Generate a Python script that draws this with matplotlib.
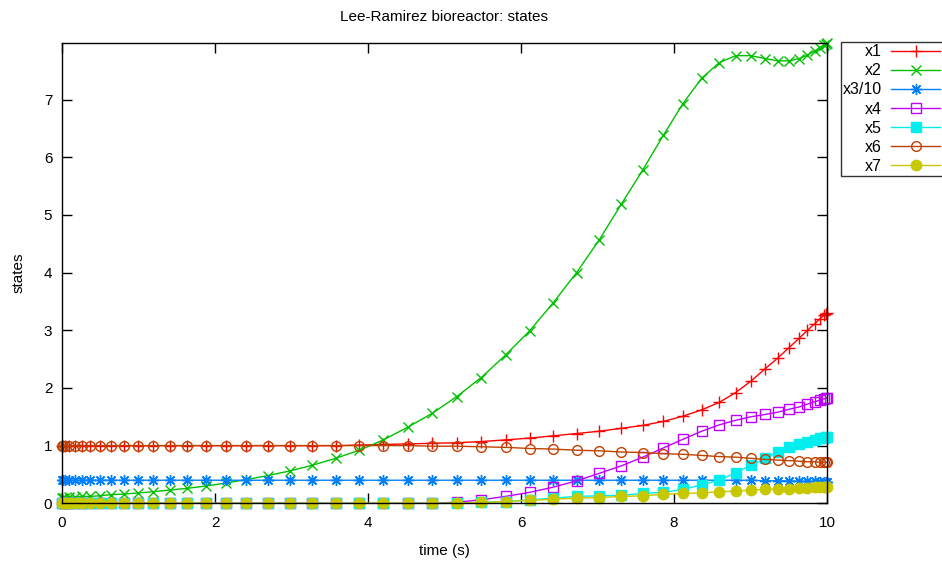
import matplotlib
matplotlib.use("Agg")
import matplotlib.pyplot as plt

plt.rcParams['font.family'] = ['Liberation Sans', 'DejaVu Sans']

# time grid
t = [0.0, 0.010, 0.041, 0.092, 0.164, 0.255, 0.365, 0.495, 0.643, 0.810,
     0.993, 1.193, 1.408, 1.639, 1.883, 2.139, 2.408, 2.687, 2.976, 3.273,
     3.577, 3.887, 4.202, 4.520, 4.840, 5.160, 5.480, 5.798, 6.113, 6.423,
     6.727, 7.024, 7.313, 7.592, 7.861, 8.117, 8.362, 8.592, 8.807, 9.007,
     9.190, 9.357, 9.505, 9.635, 9.745, 9.837, 9.908, 9.959, 9.990, 10.0]

x1 = [1.0]*21 + [1.01, 1.02, 1.03, 1.04, 1.05, 1.07, 1.10, 1.13, 1.17,
                 1.21, 1.25, 1.30, 1.35, 1.42, 1.51, 1.62, 1.75, 1.92, 2.12,
                 2.33, 2.52, 2.70, 2.86, 3.00, 3.11, 3.20, 3.26, 3.29, 3.30]
x2 = [0.10, 0.10, 0.10, 0.11, 0.11, 0.12, 0.12, 0.13, 0.15, 0.16,
      0.18, 0.20, 0.23, 0.26, 0.30, 0.35, 0.41, 0.48, 0.56, 0.66,
      0.78, 0.92, 1.10, 1.32, 1.56, 1.85, 2.18, 2.57, 2.99, 3.48,
      4.00, 4.57, 5.19, 5.78, 6.38, 6.93, 7.37, 7.64, 7.76, 7.76,
      7.71, 7.67, 7.67, 7.71, 7.77, 7.84, 7.90, 7.95, 7.97, 7.98]
x3_10 = [0.40]*39 + [0.40, 0.39, 0.39, 0.39, 0.38, 0.38, 0.38, 0.37, 0.37, 0.37, 0.37]
x4 = [0.0]*24 + [0.0, 0.02, 0.06, 0.12, 0.19, 0.28, 0.39, 0.52, 0.65, 0.80,
                 0.96, 1.11, 1.25, 1.36, 1.44, 1.50, 1.54, 1.58, 1.63, 1.67,
                 1.72, 1.76, 1.79, 1.81, 1.82, 1.83]
x5 = [0.0]*25 + [0.005, 0.015, 0.03, 0.06, 0.09, 0.12, 0.13, 0.14, 0.17, 0.19,
                 0.24, 0.32, 0.40, 0.53, 0.66, 0.78, 0.89, 0.98, 1.03, 1.07,
                 1.10, 1.13, 1.14, 1.15, 1.15]
x6 = [1.0]*24 + [0.99, 0.99, 0.98, 0.97, 0.95, 0.94, 0.92, 0.91, 0.89, 0.88,
                 0.86, 0.85, 0.83, 0.81, 0.80, 0.78, 0.76, 0.75, 0.74, 0.73,
                 0.72, 0.72, 0.71, 0.71, 0.71, 0.71]
x7 = [0.0]*25 + [0.005, 0.015, 0.03, 0.05, 0.07, 0.09, 0.10, 0.12, 0.13, 0.155,
                 0.17, 0.18, 0.20, 0.21, 0.23, 0.24, 0.25, 0.25, 0.27, 0.27,
                 0.28, 0.28, 0.28, 0.29, 0.29]

labels = ['x1', 'x2', 'x3/10', 'x4', 'x5', 'x6', 'x7']
series = [x1, x2, x3_10, x4, x5, x6, x7]
colors = ['#ff0000', '#00c000', '#0080ff', '#c000ff', '#00eeee', '#c04000', '#c8c800']
markers = ['+', 'x', (8, 2, 0), 's', 's', 'o', 'o']
filled = [True, True, True, False, True, False, True]
msizes = [8, 7, 8, 6.5, 6.5, 7, 7.5]

W, H = 942, 561
fig = plt.figure(figsize=(W/100, H/100), dpi=100)
ax = fig.add_axes([62/W, 1-503.3/H, (827-62)/W, (503.3-43)/H])

handles = []
for y, lab, c, m, f, ms in zip(series, labels, colors, markers, filled, msizes):
    kw = dict(color=c, lw=1.0, marker=m, markersize=ms, markeredgewidth=1.0)
    if not f:
        kw['markerfacecolor'] = 'none'
    ln, = ax.plot(t, y, label=lab, clip_on=False, **kw)
    handles.append(ln)

ax.set_xlim(0, 10)
ax.set_ylim(0, 7.98)
ax.set_xticks([0, 2, 4, 6, 8, 10])
ax.set_yticks(range(0, 8))
ax.tick_params(direction='in', length=7, width=1, top=True, right=True,
               labelsize=11, colors='black')
ax.tick_params(axis='x', pad=9.5)
ax.tick_params(axis='y', pad=7)
for s in ax.spines.values():
    s.set_linewidth(1.0)
ax.set_xlabel('time (s)', fontsize=11, labelpad=10)
ax.set_ylabel('states', fontsize=11, labelpad=13)
ax.set_title('Lee-Ramirez bioreactor: states', fontsize=11, pad=16)

leg = fig.legend(handles=handles, loc='upper left',
                 bbox_to_anchor=(840.5/W, 1-41.7/H), borderaxespad=0,
                 markerfirst=False,
                 fontsize=11.5, handlelength=3.1, handletextpad=0.55,
                 borderpad=0.15, labelspacing=0.26, frameon=True,
                 fancybox=False, edgecolor='black')
leg.get_frame().set_linewidth(1.0)

fig.savefig('out.png', dpi=100)
